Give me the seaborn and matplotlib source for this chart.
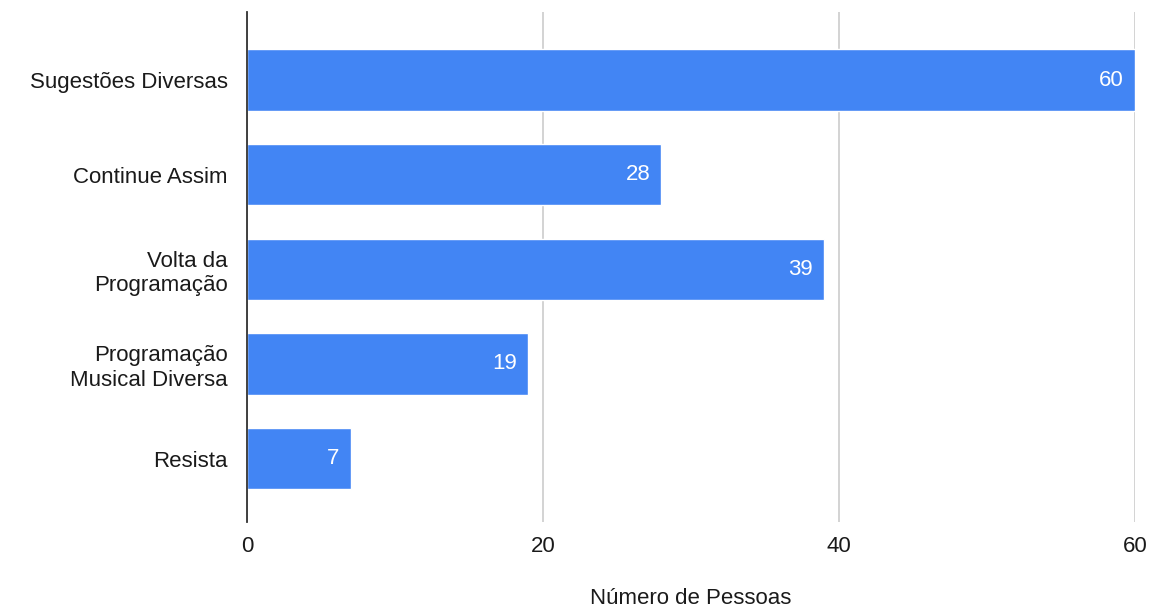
import matplotlib
matplotlib.use("Agg")
import matplotlib.pyplot as plt
import seaborn as sns
import pandas as pd

categories = ["Sugestões Diversas", "Continue Assim", "Volta da\nProgramação",
              "Programação\nMusical Diversa", "Resista"]
values = [60, 28, 39, 19, 7]
xticks = [0, 20, 40, 60]

sns.set_theme(style="white")
plt.rcParams['font.family'] = ['Liberation Sans', 'DejaVu Sans']

df = pd.DataFrame({"cat": categories, "val": values})

fig = plt.figure(figsize=(11.52, 6.14), dpi=100)
ax = fig.add_axes([247/1152, 1-522/614, (1135-247)/1152, (522-12)/614])

sns.barplot(data=df, x="val", y="cat", orient="h", color="#4285F4",
            saturation=1, width=0.65, ax=ax)

ax.set_xlim(0, 60)
ax.set_ylim(4.67, -0.72)
ax.set_xticks(xticks)
ax.set_xticklabels([str(t) for t in xticks], fontsize=16, color="#1a1a1a")
ax.tick_params(axis='y', labelsize=16, labelcolor="#1a1a1a", length=0, pad=14)
ax.tick_params(axis='x', length=0, pad=10)
for lbl in ax.get_yticklabels():
    lbl.set_horizontalalignment('right')
    lbl.set_multialignment('right')
ax.grid(axis='x', color="#cccccc", linewidth=1.2)
ax.set_axisbelow(True)
for s in ["top", "right", "bottom"]:
    ax.spines[s].set_visible(False)
ax.spines["left"].set_color("#333333")
ax.spines["left"].set_linewidth(1.3)
ax.spines["left"].set_zorder(5)

ax.set_ylabel("")
ax.set_xlabel("Número de Pessoas", fontsize=16, color="#1a1a1a")
ax.xaxis.set_label_coords(0.5, -0.13)

for container in ax.containers:
    ax.bar_label(container, labels=[str(v) for v in values], padding=-8,
                 color="white", fontsize=16, label_type="edge")
for t in ax.texts:
    t.set_horizontalalignment('right')

fig.savefig("out.png", dpi=100)
